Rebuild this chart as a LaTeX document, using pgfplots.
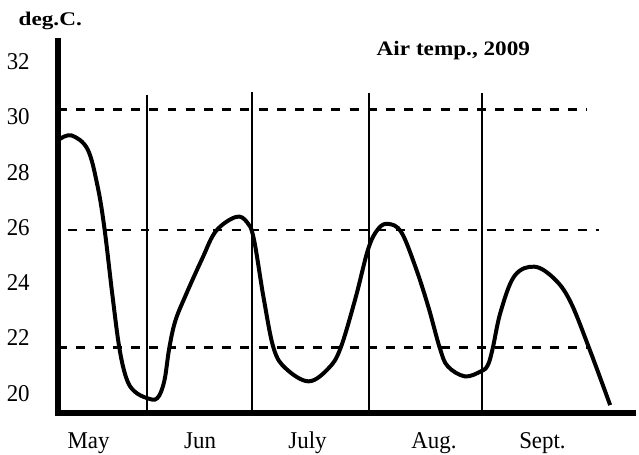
\documentclass[border=0pt]{standalone}
\usepackage{pgfplots}
\pgfplotsset{compat=1.18}
\usepackage{fontspec}
\setmainfont{Liberation Serif}
\newfontfamily\tickfont{Liberation Serif}[FakeStretch=0.95]
\usetikzlibrary{calc}
\begin{document}
\begin{tikzpicture}
\begin{axis}[
 scale only axis, width=580.5bp, height=376.5bp,
 xmin=58.5, xmax=639, ymin=19.30, ymax=32.865,
 axis x line=bottom, axis y line=left, axis line style={draw=none},
 clip=false,
 ytick={20,22,...,32},
 xtick={89,201,309,436,545},
 xticklabels={May,Jun,July,Aug.,Sept.},
 major tick length=0pt, tick style={draw=none},
 /pgf/number format/assume math mode=true,
 ticklabel style={font=\tickfont\fontsize{24.3}{28}\selectfont, inner sep=0pt},
 yticklabel style={anchor=east, xshift=-28.5bp},
 xticklabel style={anchor=base, yshift=-36.5bp},
]
% axis lines
\addplot[black, line width=6bp, line join=miter] coordinates {(58.5,32.865) (58.5,19.30) (639,19.30)};
% dashed reference lines
\addplot[black, line width=2.3bp, dash pattern=on 9bp off 9.3bp] coordinates {(58.5,30.27) (590,30.27)};
\addplot[black, line width=2.3bp, dash pattern=on 9bp off 9.3bp] coordinates {(68,25.92) (602,25.92)};
\addplot[black, line width=2.3bp, dash pattern=on 9bp off 9.3bp] coordinates {(58.5,21.65) (592,21.65)};
% month separators
\addplot[black, line width=2.3bp] coordinates {(148,30.81) (148,19.30)};
\addplot[black, line width=2.3bp] coordinates {(253,30.92) (253,19.30)};
\addplot[black, line width=2.3bp] coordinates {(371,30.88) (371,19.30)};
\addplot[black, line width=2.3bp] coordinates {(484,30.88) (484,19.30)};
% temperature curve
\addplot[black, line width=4bp, smooth, tension=0.6] coordinates {
(60,29.20) (72,29.33) (88,28.83) (98,27.50) (105,25.95) (113,23.53) (120,21.62)
(127,20.54) (135,20.07) (148,19.82) (158,19.82) (165,20.43) (170,21.62) (176,22.60)
(186,23.50) (203,24.86) (217,25.87) (237,26.38) (248,26.20) (255,25.59) (265,23.42)
(275,21.62) (287,20.90) (310,20.43) (330,20.90) (342,21.62) (357,23.42) (370,25.23)
(380,25.95) (390,26.13) (403,25.84) (417,24.61) (430,23.17) (442,21.62) (450,20.97)
(467,20.61) (483,20.79) (490,21.01) (495,21.62) (503,22.95) (517,24.25) (537,24.58)
(557,24.14) (573,23.32) (592,21.62) (613,19.57)};
\node[font=\bfseries\fontsize{20.7}{24}\selectfont, anchor=base, inner sep=0pt] at (axis cs:455.5,32.23) {\scalebox{1.13}[1]{Air temp., 2009}};
\node[font=\bfseries\fontsize{19.5}{23}\selectfont, anchor=base, inner sep=0pt] at (axis cs:50.5,33.30) {\scalebox{1.2}[1]{deg.C.}};
\end{axis}
\path ($(current axis.south west)+(-58.5bp,-42.5bp)$) rectangle ($(current axis.north east)+(0bp,38bp)$);
\end{tikzpicture}
\end{document}
